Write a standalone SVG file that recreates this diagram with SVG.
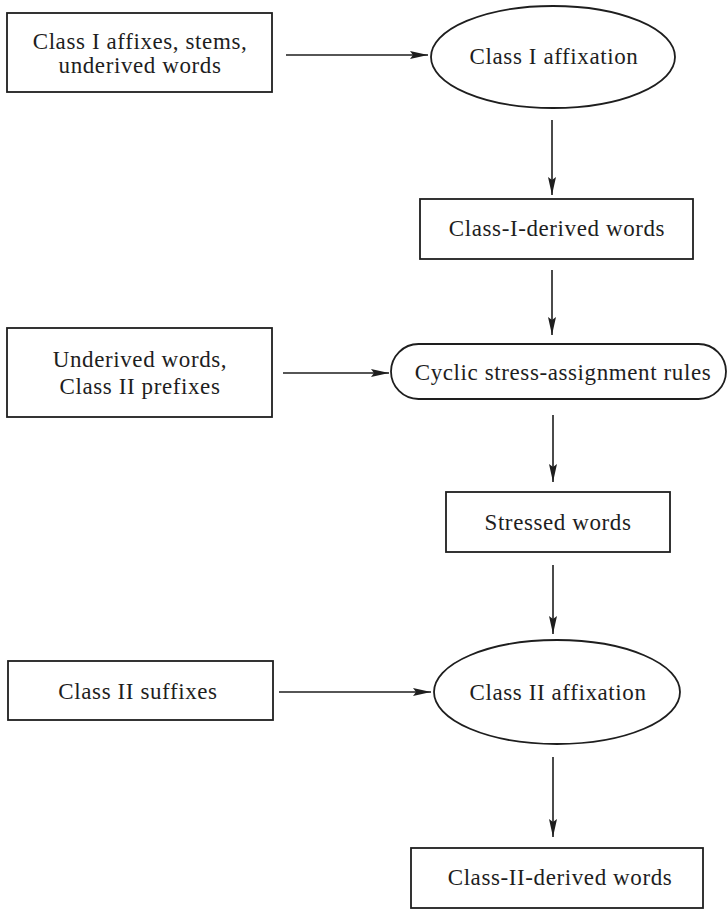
<svg xmlns="http://www.w3.org/2000/svg" width="728" height="911" viewBox="0 0 728 911">
  <style>
    .box { fill: #ffffff; stroke: #1e1e1e; stroke-width: 1.8; }
    .lbl { font-family: "Liberation Serif", "Times New Roman", serif; font-size: 23px; letter-spacing: 0.6px; fill: #1e1e1e; text-anchor: middle; }
    .edge { stroke: #1e1e1e; stroke-width: 1.6; fill: none; marker-end: url(#head); }
  </style>
  <defs>
    <marker id="head" markerUnits="userSpaceOnUse" markerWidth="19" markerHeight="9" refX="18" refY="4" orient="auto">
      <path d="M0,0 L18,4 L0,8 L3,4 z" fill="#1e1e1e"/>
    </marker>
  </defs>
  <rect width="728" height="911" fill="#ffffff"/>

  <g id="connectors">
    <line class="edge" x1="286" y1="55" x2="428" y2="55"/>
    <line class="edge" x1="552" y1="120" x2="552" y2="195"/>
    <line class="edge" x1="552" y1="270" x2="552" y2="335"/>
    <line class="edge" x1="283" y1="373" x2="389" y2="373"/>
    <line class="edge" x1="553" y1="415" x2="553" y2="482"/>
    <line class="edge" x1="553" y1="565" x2="553" y2="634"/>
    <line class="edge" x1="279" y1="692" x2="431" y2="692"/>
    <line class="edge" x1="553" y1="757" x2="553" y2="837"/>
  </g>

  <g id="class1-inputs">
    <rect class="box" x="7" y="13" width="265" height="79"/>
    <text class="lbl" x="140" y="49">Class I affixes, stems,</text>
    <text class="lbl" x="140" y="73">underived words</text>
  </g>

  <g id="class1-affixation">
    <ellipse class="box" cx="553" cy="57" rx="122" ry="51"/>
    <text class="lbl" x="554" y="64">Class I affixation</text>
  </g>

  <g id="class1-derived">
    <rect class="box" x="420" y="199" width="273" height="60"/>
    <text class="lbl" x="557" y="236">Class-I-derived words</text>
  </g>

  <g id="stress-inputs">
    <rect class="box" x="7" y="328" width="265" height="89"/>
    <text class="lbl" x="140" y="367">Underived words,</text>
    <text class="lbl" x="140" y="394">Class II prefixes</text>
  </g>

  <g id="cyclic-stress">
    <rect class="box" x="391" y="344" width="335" height="55" rx="27.5" ry="27.5"/>
    <text class="lbl" x="563" y="380">Cyclic stress-assignment rules</text>
  </g>

  <g id="stressed-words">
    <rect class="box" x="446" y="492" width="224" height="60"/>
    <text class="lbl" x="558" y="530">Stressed words</text>
  </g>

  <g id="class2-suffixes">
    <rect class="box" x="8" y="661" width="265" height="59"/>
    <text class="lbl" x="138" y="699">Class II suffixes</text>
  </g>

  <g id="class2-affixation">
    <ellipse class="box" cx="557" cy="692" rx="123" ry="52"/>
    <text class="lbl" x="558" y="700">Class II affixation</text>
  </g>

  <g id="class2-derived">
    <rect class="box" x="411" y="848" width="292" height="60"/>
    <text class="lbl" x="560" y="885">Class-II-derived words</text>
  </g>
</svg>
